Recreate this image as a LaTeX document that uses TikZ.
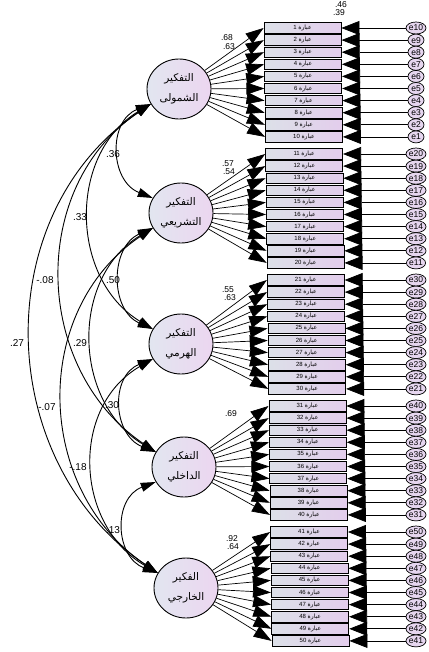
\documentclass[tikz,border=0pt]{standalone}
\usepackage{fontspec}
\setmainfont{Liberation Sans}
\newfontfamily\arabicfont[Script=Arabic]{DejaVu Sans}
\TeXXeTstate=1
\usetikzlibrary{shapes.geometric,arrows.meta}
\newcommand{\arx}[1]{{\arabicfont\beginR #1\endR}}
\definecolor{latL}{HTML}{E2E6F0}
\definecolor{latR}{HTML}{ECD6F0}
\definecolor{boxL}{HTML}{DCE0E8}
\definecolor{boxR}{HTML}{E3CDEC}
\definecolor{errF}{HTML}{E6D6EF}
\begin{document}
\begin{tikzpicture}[x=1pt,y=-1pt,
  latent/.style={ellipse, draw, line width=0.9pt, minimum width=64pt, minimum height=60pt, inner sep=0pt, left color=latL, right color=latR, align=center, font=\fontsize{10.5}{20}\selectfont},
  obs/.style={rectangle, draw, line width=0.8pt, minimum width=77pt, minimum height=10.5pt, inner sep=0pt, left color=boxL, right color=boxR, font=\fontsize{6}{6}\selectfont},
  err/.style={ellipse, draw, line width=0.7pt, minimum width=16pt, minimum height=12pt, inner sep=0pt, fill=errF, font=\fontsize{8.5}{8.5}\selectfont},
  load/.style={-{Triangle[length=18pt,width=12pt]}, line width=0.7pt},
  errarr/.style={-{Triangle[length=18pt,width=14pt]}, line width=0.7pt},
  cov/.style={{Triangle[length=15pt,width=9pt]}-{Triangle[length=15pt,width=9pt]}, line width=0.9pt},
  lab/.style={font=\fontsize{10}{10}\selectfont, inner sep=0pt},
  slab/.style={font=\fontsize{8.5}{8.5}\selectfont, inner sep=0pt}
]
\useasboundingbox (0,0) rectangle (428,652);

% latent variables
\node[latent] (L0) at (179,89)  {\arx{التفكير}\\\arx{الشمولى}};
\node[latent] (L1) at (181,213) {\arx{التفكير}\\\arx{التشريعي}};
\node[latent] (L2) at (181,344) {\arx{التفكير}\\\arx{الهرمي}};
\node[latent] (L3) at (184,467) {\arx{التفكير}\\\arx{الداخلي}};
\node[latent] (L4) at (186,588) {\arx{الفكير}\\\arx{الخارجي}};

% indicators, errors, loadings
\foreach \g in {0,...,4}{
  \foreach \k in {0,...,9}{
    \pgfmathtruncatemacro\ii{10*\g+\k}
    \pgfmathsetmacro\yy{28+12.1*\ii+5*\g}
    \pgfmathsetmacro\xx{302.5+8*\ii/49}
    \pgfmathtruncatemacro\eno{10*\g+10-\k}
    \pgfmathtruncatemacro\nn{\ii+1}
    \node[obs] (b\ii) at (\xx,\yy) {\nn\ \arx{عبارة}};
    \node[err] (e\ii) at (416,\yy) {e\eno};
    \draw[load] (L\g) -- (b\ii.west);
    \draw[errarr] (e\ii) -- (b\ii.east);
  }
}

% covariances
\draw[cov] (L0.208) .. controls +(-43,17) and +(-43,-17) .. (L1.152);
\draw[cov] (L1.208) .. controls +(-43,19) and +(-43,-19) .. (L2.152);
\draw[cov] (L2.208) .. controls +(-43,17) and +(-43,-17) .. (L3.152);
\draw[cov] (L3.208) .. controls +(-43,16) and +(-43,-16) .. (L4.152);
\draw[cov] (L0.208) .. controls +(-83,50) and +(-83,-50) .. (L2.152);
\draw[cov] (L1.208) .. controls +(-83,50) and +(-83,-50) .. (L3.152);
\draw[cov] (L2.208) .. controls +(-83,48) and +(-83,-48) .. (L4.152);
\draw[cov] (L0.208) .. controls +(-123,83) and +(-123,-83) .. (L3.152);
\draw[cov] (L1.208) .. controls +(-123,83) and +(-123,-83) .. (L4.152);
\draw[cov] (L0.208) .. controls +(-164,111) and +(-164,-111) .. (L4.152);

% covariance labels
\node[lab] (c01) at (113,154) {.36};
\node[lab] (c02) at (80,217) {.33};
\node[lab] (c03) at (45,280) {-.08};
\node[lab] (c04) at (17,343) {.27};
\node[lab] (c12) at (113,280) {.50};
\node[lab] (c13) at (80,343) {.29};
\node[lab] (c14) at (47,407) {-.07};
\node[lab] (c23) at (112,405) {.30};
\node[lab] (c24) at (78,467) {-.18};
\node[lab] (c34) at (113,530) {.13};

% loading labels
\node[slab] (w0a) at (227,38) {.68};
\node[slab] (w0b) at (229,47) {.63};
\node[slab] (w1a) at (228,164) {.57};
\node[slab] (w1b) at (229,172) {.54};
\node[slab] (w2a) at (228,290) {.55};
\node[slab] (w2b) at (230,298) {.63};
\node[slab] (w3a) at (231,414) {.69};
\node[slab] (w4a) at (232,539) {.92};
\node[slab] (w4b) at (233,547) {.64};

% squared multiple correlations
\node[slab] (r0) at (341,5) {.46};
\node[slab] (r1) at (339,13) {.39};
\end{tikzpicture}
\end{document}
